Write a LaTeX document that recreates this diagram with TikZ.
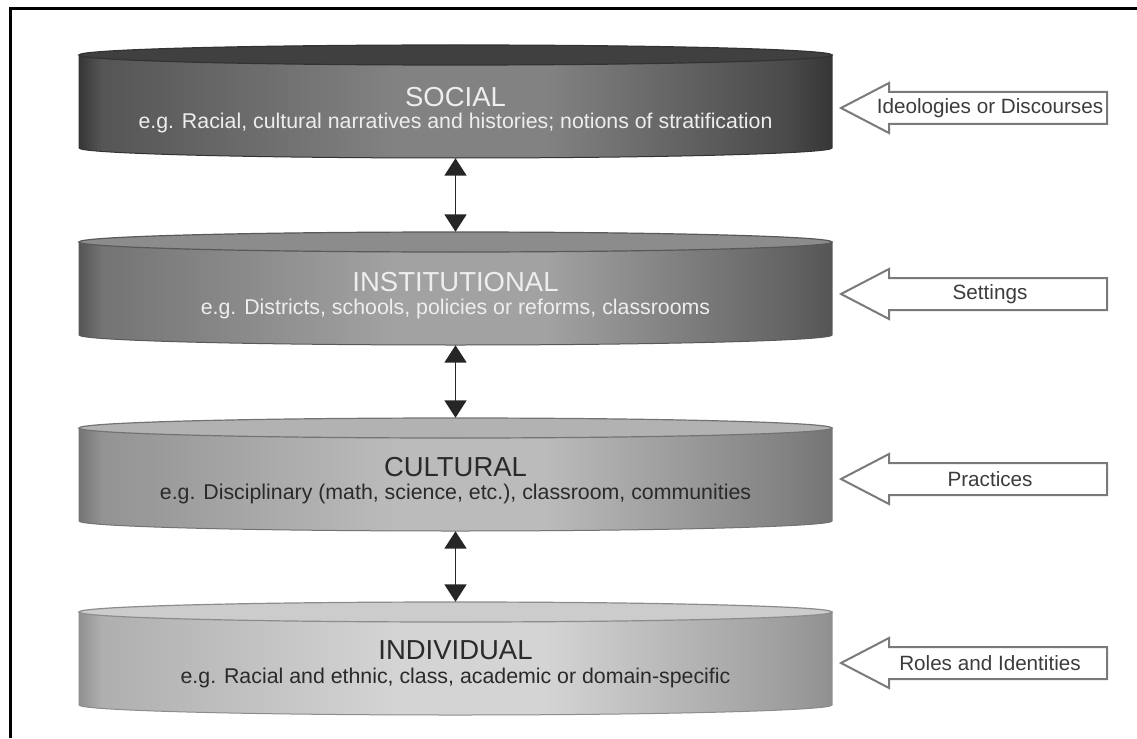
\documentclass[tikz,border=0pt]{standalone}
\usepackage{fontspec}
\setmainfont{Liberation Sans}
\usetikzlibrary{arrows.meta}

% grey tones of the four layers
\definecolor{socA}{HTML}{363636}\definecolor{socB}{HTML}{555555}
\definecolor{socC}{HTML}{828282}\definecolor{socD}{HTML}{4A4A4A}
\definecolor{socTop}{HTML}{404040}
\definecolor{insA}{HTML}{555555}\definecolor{insB}{HTML}{747474}
\definecolor{insC}{HTML}{A2A2A2}\definecolor{insD}{HTML}{646464}
\definecolor{insTop}{HTML}{8C8C8C}
\definecolor{culA}{HTML}{747474}\definecolor{culB}{HTML}{939393}
\definecolor{culC}{HTML}{BBBBBB}\definecolor{culD}{HTML}{828282}
\definecolor{culTop}{HTML}{B2B2B2}
\definecolor{indA}{HTML}{909090}\definecolor{indB}{HTML}{AFAFAF}
\definecolor{indC}{HTML}{D4D4D4}\definecolor{indD}{HTML}{9E9E9E}
\definecolor{indTop}{HTML}{CCCCCC}
\definecolor{lightText}{HTML}{EEEEEE}
\definecolor{darkText}{HTML}{2A2A2A}
\definecolor{arrowEdge}{HTML}{7A7A7A}
\definecolor{arrowText}{HTML}{3C3C3C}

% side shading of each drum (the path spans 25bp..75bp of the shading):
% dark rims, light band a little left of centre
\newcommand\drumshading[5]{%
  \pgfdeclarehorizontalshading{#1}{100bp}{color(0bp)=(#2); color(25bp)=(#2);
    color(26.5bp)=(#3); color(46bp)=(#4); color(56bp)=(#4); color(72bp)=(#5);
    color(75bp)=(#2); color(100bp)=(#2)}}
\drumshading{socbody}{socA}{socB}{socC}{socD}
\drumshading{insbody}{insA}{insB}{insC}{insD}
\drumshading{culbody}{culA}{culB}{culC}{culD}
\drumshading{indbody}{indA}{indB}{indC}{indD}

% one drum: #1 top-ellipse centre y, #2 body shading, #3 top colour, #4 edge colour
\newcommand\drumlayer[4]{%
  \path[shading=#2, draw=#4, line width=0.75pt]
    (79,#1) -- (79,#1+93) arc[start angle=180, end angle=360,
      x radius=282.4pt, y radius=7.5pt] -- (832,#1) -- cycle;
  \path[fill=#3, draw=#4, line width=0.9pt]
    (455.5,#1) ellipse[x radius=282.4pt, y radius=7.5pt];
}
% one block arrow pointing left, centred at height #1
\newcommand\blockarrowat[1]{%
  \draw[blockedge] (841,#1) -- (889,#1-25) -- (889,#1-16) -- (1107,#1-16)
    -- (1107,#1+16) -- (889,#1+16) -- (889,#1+25) -- cycle;
}

\begin{document}
\begin{tikzpicture}[x=0.75pt, y=-0.75pt,
  layerbox/.style={minimum width=564.75pt, minimum height=84.75pt, inner sep=0pt},
  titletext/.style={font=\fontsize{20.6}{24}\selectfont, inner sep=0pt},
  subtext/.style={font=\fontsize{16}{19}\selectfont, inner sep=0pt},
  sidetext/.style={font=\fontsize{15.5}{18}\selectfont, text=arrowText, inner sep=0pt},
  blockedge/.style={draw=arrowEdge, fill=white, line width=1.5pt, line join=miter},
  linkarrow/.style={{Triangle[width=16.5pt,length=13pt]}-{Triangle[width=16.5pt,length=13pt]},
    line width=1.2pt, draw=black!85}]

\useasboundingbox (0,0) rectangle (1137,738);
% frame
\draw[line width=2.25pt] (10,738) -- (10,9) -- (1137,9);

% the four drums
\drumlayer{55}{socbody}{socTop}{black!80}
\drumlayer{242}{insbody}{insTop}{black!65}
\drumlayer{428}{culbody}{culTop}{black!55}
\drumlayer{612}{indbody}{indTop}{black!45}

\node[layerbox] (social) at (455.5,101.5) {};
\node[layerbox] (institutional) at (455.5,288.5) {};
\node[layerbox] (cultural) at (455.5,474.5) {};
\node[layerbox] (individual) at (455.5,658.5) {};

\node[titletext, text=lightText] (socialT) at (455.5,97) {SOCIAL};
\node[subtext, text=lightText] (socialS) at (455.5,123)
  {e.g. Racial, cultural narratives and histories; notions of stratification};
\node[titletext, text=lightText] (institutionalT) at (455.5,282) {INSTITUTIONAL};
\node[subtext, text=lightText] (institutionalS) at (455.5,309)
  {e.g. Districts, schools, policies or reforms, classrooms};
\node[titletext, text=darkText] (culturalT) at (455.5,467) {CULTURAL};
\node[subtext, text=darkText] (culturalS) at (455.5,494)
  {e.g. Disciplinary (math, science, etc.), classroom, communities};
\node[titletext, text=darkText] (individualT) at (455.5,650) {INDIVIDUAL};
\node[subtext, text=darkText] (individualS) at (455.5,678)
  {e.g. Racial and ethnic, class, academic or domain-specific};

% links between neighbouring layers
\draw[linkarrow] (social.south) -- (institutional.north);
\draw[linkarrow] (institutional.south) -- (cultural.north);
\draw[linkarrow] (cultural.south) -- (individual.north);

% influences entering each layer from the right
\blockarrowat{108}
\blockarrowat{294}
\blockarrowat{479}
\blockarrowat{663}
\node[sidetext] (ideologies) at (990,108) {Ideologies or Discourses};
\node[sidetext] (settings) at (990,294) {Settings};
\node[sidetext] (practices) at (990,479) {Practices};
\node[sidetext] (roles) at (990,663) {Roles and Identities};
\end{tikzpicture}
\end{document}
